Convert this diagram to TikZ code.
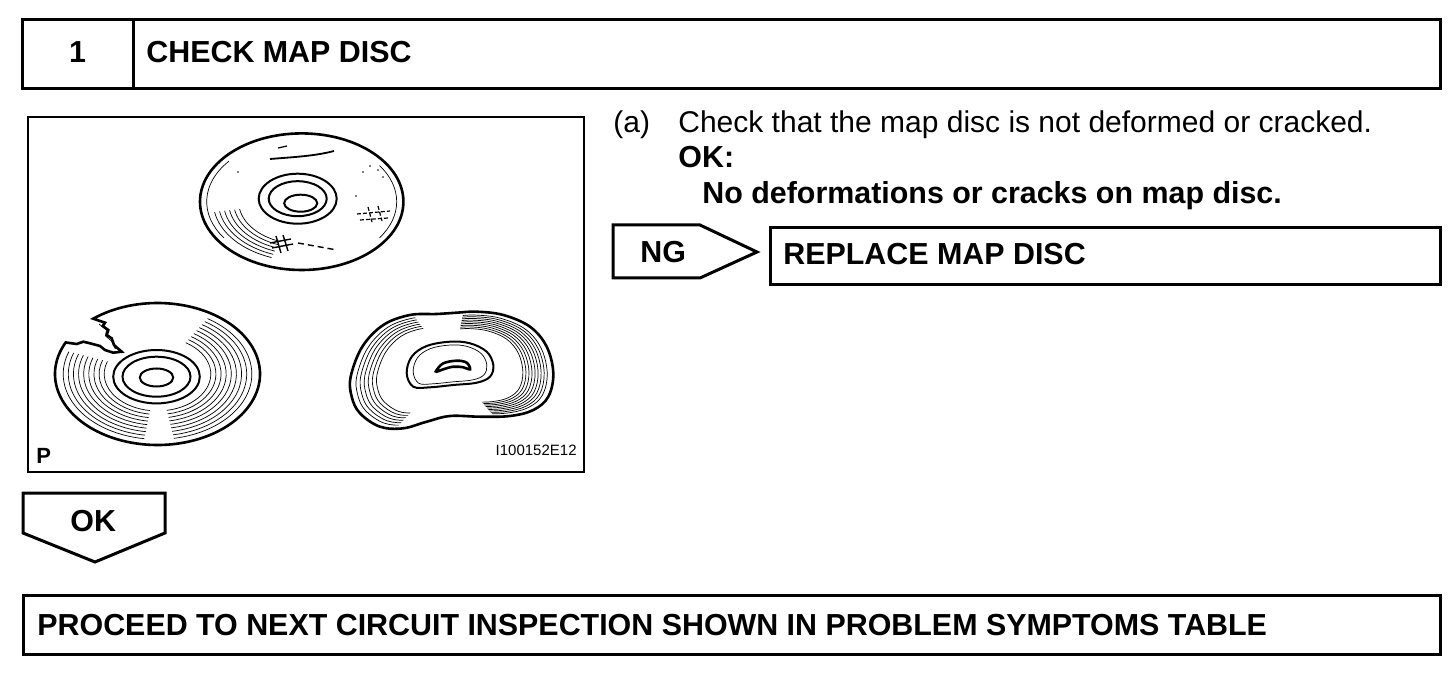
\documentclass[tikz,border=0pt]{standalone}
\usepackage{fontspec}
\setmainfont{Liberation Sans}
\usetikzlibrary{positioning}

\tikzset{
	frame/.style={draw=black, line width=1.5pt},
	head/.style={font=\fontsize{15.2}{18}\selectfont\bfseries, anchor=base west, inner sep=0pt},
	body/.style={font=\fontsize{15}{18}\selectfont, anchor=base west, inner sep=0pt},
	rim/.style={line width=1.3pt},
	ring/.style={line width=1pt},
	groove/.style={line width=0.35pt}
}
\newcommand{\warpline}{(350.7,376.7) (362.3,346.7) (383.3,325) (410,315) (436.7,314) (456.7,312.7) (476.7,311.7) (503.3,315) (530,326.7) (546.7,346.7) (553.3,373.3) (548.3,396.7) (533.3,410) (510,416) (480,416.7) (450,416) (426.7,421.7) (403.3,428.3) (380,426.7) (360,413.3) (351.7,396.7)}
\newcommand{\warpring}{(406.7,373.3) (411.7,356.7) (426.7,346) (450,341.7) (470,343.3) (486.7,351.7) (493.3,365) (490,376.7) (476.7,382.7) (453.3,385) (430,387.3) (413.3,386.7)}

\begin{document}
\begin{tikzpicture}[x=0.5pt,y=-0.5pt]
	\useasboundingbox (0,0) rectangle (1456,684);
	% Title bar
	\draw[frame] (22,20) rectangle (1440,89);
	\draw[frame] (133,20) -- (133,89);
	\node[head, anchor=base] (num) at (77.5,63) {1};
	\node[head] (title) at (146,63) {CHECK MAP DISC};

	% Illustration frame
	\draw[line width=1pt] (28,117) rectangle (584,472);
	\node[font=\fontsize{11}{12}\selectfont\bfseries, anchor=base west, inner sep=0pt] (plabel) at (36,463) {P};
	\node[font=\fontsize{7.5}{9}\selectfont, anchor=base east, inner sep=0pt] (code) at (577,455) {I100152E12};

	% Scratched disc
	\begin{scope}[shift={(301.7,201.7)}]
		\draw[rim] (0,0) ellipse [x radius=101.7, y radius=68.3];
		\draw[ring] (-4,-3) ellipse [x radius=39, y radius=25];
		\draw[ring] (-4,-3) ellipse [x radius=29, y radius=17.5];
		\draw[ring] (-1,1.5) ellipse [x radius=16.5, y radius=8.5];
		\foreach \s in {0.62,0.67,...,0.92}
			\draw[groove, scale=\s] (-190:101.7 and 68.3) arc[start angle=-190, end angle=-250, x radius=101.7, y radius=68.3];
		\draw[groove] (-140:95 and 63) arc[start angle=-140, end angle=-215, x radius=95, y radius=63];
		\draw[groove] (-35:95 and 63) arc[start angle=-35, end angle=35, x radius=95, y radius=63];
	\end{scope}
	\draw[line width=0.9pt] (270,159) .. controls (295,157) and (315,156) .. (334,151);
	\draw[line width=0.6pt] (278,148) -- (287,146);
	\draw[line width=0.7pt] (270,243) -- (291,239) (272,248) -- (293,244) (276,236) -- (281,253) (283,235) -- (288,251);
	\draw[line width=0.7pt, dash pattern=on 3pt off 2pt] (298,243) -- (337,250);
	\draw[line width=0.6pt, dash pattern=on 2pt off 1pt] (357,214) -- (390,211) (360,220) -- (388,218) (368,207) -- (372,222) (378,206) -- (382,221);
	\foreach \p in {(363,172),(370,166),(378,170),(383,177),(238,172),(356,196)}
		\fill \p circle (0.8);

	% Cracked disc
	\begin{scope}[shift={(157.5,374)}]
		\draw[rim] (-153.6:102.5 and 71) arc[start angle=-153.6, end angle=-488.8, x radius=102.5, y radius=71]
			-- (-52.5,-51.3) -- (-54.8,-48) -- (-49.2,-44) -- (-50.8,-39) -- (-45.8,-35.7) -- (-43.5,-29)
			-- (-35.8,-22.3) -- (-44.2,-21.3) -- (-52.5,-24) -- (-57.5,-28) -- (-67.5,-30.7) -- (-74.2,-32.3) -- (-80.8,-30) -- cycle;
		\draw[groove] (-58.5,-50) -- (-51,-44) -- (-52,-38) -- (-46,-33) -- (-42,-25);
		\draw[ring] (-1,2.7) ellipse [x radius=43.3, y radius=26.7];
		\draw[ring] (-1,2.7) ellipse [x radius=34, y radius=20];
		\draw[ring] (-1,3.5) ellipse [x radius=16.7, y radius=9];
		\foreach \s in {0.52,0.57,...,0.94}
			\draw[groove, scale=\s] (-160:102.5 and 71) arc[start angle=-160, end angle=-262, x radius=102.5, y radius=71];
		\foreach \s in {0.52,0.57,...,0.94}
			\draw[groove, scale=\s] (80:102.5 and 71) arc[start angle=80, end angle=-58, x radius=102.5, y radius=71];
	\end{scope}

	% Warped disc
	\draw[rim] plot[smooth cycle, tension=0.6] coordinates {\warpline};
	\draw[ring] plot[smooth cycle, tension=0.6] coordinates {\warpring};
	\begin{scope}[shift={(450,364)}, scale=0.85, shift={(-450,-364)}]
		\draw[groove] plot[smooth cycle, tension=0.6] coordinates {\warpring};
	\end{scope}
	\draw[line width=1.3pt] plot[smooth cycle, tension=0.6] coordinates {(436.7,370) (443.3,363.3) (456.7,360.7) (466.7,362.7) (470,369.3) (463.3,367.3) (453.3,366.7) (443.3,369.3) (436.7,371.7)};
	\begin{scope}
		\clip (452,368) -- (395,290) -- (300,290) -- (300,440) -- (385,440) -- cycle;
		\foreach \s in {0.74,0.78,...,0.95}
			\draw[groove, shift={(452,368)}, scale=\s, shift={(-452,-368)}] plot[smooth cycle, tension=0.6] coordinates {\warpline};
	\end{scope}
	\begin{scope}
		\clip (452,368) -- (468,290) -- (600,290) -- (600,440) -- (515,440) -- cycle;
		\foreach \s in {0.70,0.73,...,0.95}
			\draw[groove, shift={(452,368)}, scale=\s, shift={(-452,-368)}] plot[smooth cycle, tension=0.6] coordinates {\warpline};
	\end{scope}

	% Inspection text
	\node[body] (item) at (613,133) {(a)};
	\node[body] (check) at (678,133) {Check that the map disc is not deformed or cracked.};
	\node[head] (okspec) at (678,168) {OK:};
	\node[head] (spec) at (702,204) {No deformations or cracks on map disc.};

	% NG branch
	\draw[frame] (613,225) -- (700,225) -- (757,252) -- (700,278) -- (613,278) -- cycle;
	\node[head] (ng) at (640,263) {NG};
	\draw[frame] (770,228) rectangle (1440,285);
	\node[head] (replace) at (783,264) {REPLACE MAP DISC};

	% OK branch
	\draw[frame] (23,493) -- (165,493) -- (165,533) -- (95,562) -- (23,533) -- cycle;
	\node[head] (ok) at (70,531) {OK};
	\draw[frame] (23,595) rectangle (1440,654);
	\node[head] (proceed) at (37,635) {PROCEED TO NEXT CIRCUIT INSPECTION SHOWN IN PROBLEM SYMPTOMS TABLE};
\end{tikzpicture}
\end{document}
